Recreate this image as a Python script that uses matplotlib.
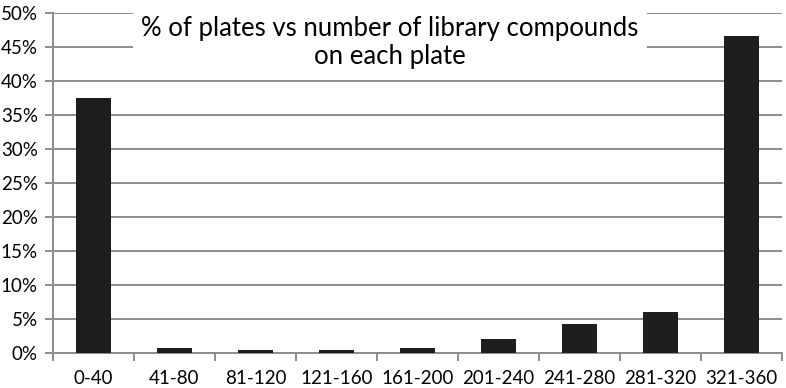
import matplotlib
matplotlib.use("Agg")
from matplotlib import pyplot as plt
import numpy as np

# compound count bins and % of plates
categories = ["0-40", "41-80", "81-120", "121-160", "161-200",
              "201-240", "241-280", "281-320", "321-360"]
percent = [37.5, 0.8, 0.5, 0.5, 0.8, 2.1, 4.2, 6.0, 46.6]
yticks = [0, 5, 10, 15, 20, 25, 30, 35, 40, 45, 50]
title = "% of plates vs number of library compounds\non each plate"

plt.rcParams['font.family'] = ['Lato', 'DejaVu Sans']

fig = plt.figure(figsize=(7.86, 3.88), dpi=100)
ax = fig.add_axes([53 / 786, 1 - 353 / 388, 729 / 786, 340 / 388])

x = np.arange(len(categories))
ax.bar(x, percent, width=0.42, color="#1e1e1e", zorder=3)

grid_c = "#8c8c8c"
ax.set_ylim(0, 50)
ax.set_xlim(-0.5, len(categories) - 0.5)
ax.set_yticks(yticks)
ax.set_yticklabels([f"{v}%" for v in yticks], fontsize=13.5)
ax.yaxis.grid(True, color=grid_c, linewidth=1.4, zorder=0)

# category labels centred, tick marks on the boundaries
ax.set_xticks(x)
ax.set_xticklabels(categories, fontsize=13.5)
ax.tick_params(axis="x", length=0, pad=12)
ax.set_xticks(np.arange(len(categories) + 1) - 0.5, minor=True)
ax.tick_params(axis="x", which="minor", length=6, color=grid_c, width=1.4)
ax.tick_params(axis="y", length=6, color=grid_c, width=1.4, pad=5)

for s in ["top", "right"]:
    ax.spines[s].set_visible(False)
for s in ["left", "bottom"]:
    ax.spines[s].set_color(grid_c)
    ax.spines[s].set_linewidth(1.4)

ax.text(0.462, 45.6, title, transform=ax.get_yaxis_transform(),
        ha="center", va="center", fontsize=18.5, linespacing=1.15, zorder=5,
        clip_on=False,
        bbox=dict(facecolor="white", edgecolor="none", pad=6))

fig.savefig("out.png", dpi=100)
